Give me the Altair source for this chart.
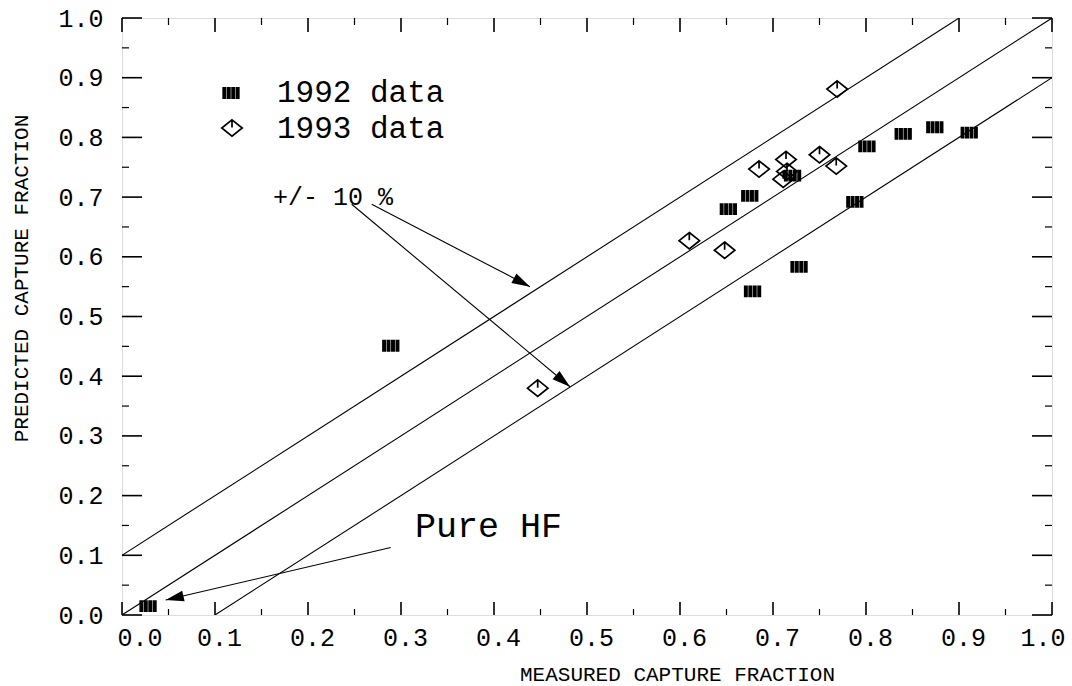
import math
import altair as alt
import pandas as pd

# ---------------- data ----------------
x1992 = [0.028, 0.289, 0.652, 0.675, 0.678, 0.721, 0.728, 0.788, 0.801, 0.840, 0.874, 0.911]
y1992 = [0.015, 0.451, 0.680, 0.702, 0.542, 0.736, 0.583, 0.692, 0.785, 0.806, 0.817, 0.808]

x1993 = [0.447, 0.610, 0.648, 0.685, 0.711, 0.715, 0.714, 0.750, 0.768, 0.769]
y1993 = [0.380, 0.627, 0.611, 0.747, 0.730, 0.743, 0.763, 0.771, 0.752, 0.881]

band_offsets = [0.1, 0.0, -0.1]          # y = x + offset  (perfect fit and +/- 10 %)
major_ticks = [0.0, 0.1, 0.2, 0.3, 0.4, 0.5, 0.6, 0.7, 0.8, 0.9, 1.0]
minor_ticks = [0.05, 0.15, 0.25, 0.35, 0.45, 0.55, 0.65, 0.75, 0.85, 0.95]
legend_labels = ["1992 data", "1993 data"]

arrow_x = [0.2685, 0.247, 0.289]
arrow_y = [0.688, 0.688, 0.113]
arrow_x2 = [0.4387, 0.4817, 0.047]
arrow_y2 = [0.550, 0.3824, 0.025]

note_texts = ["+/- 10 %", "Pure HF"]
note_x = [0.1624, 0.315]
note_y = [0.6868, 0.1312]

x_title = "MEASURED CAPTURE FRACTION"
y_title = "PREDICTED CAPTURE FRACTION"

# ---------------- layout ----------------
W, H = 930, 597
FONT = "Liberation Mono"

_bw, _gap = 0.455, 0.06
SQUARE = " ".join(
    f"M{-1 + i * (_bw + _gap):.3f},-0.68 H{-1 + i * (_bw + _gap) + _bw:.3f} V0.68 H{-1 + i * (_bw + _gap):.3f} Z"
    for i in range(4)
)
DIAMOND = "M0,-0.8 L1,0 L0,0.8 L-1,0 Z M0,-0.8 L0,-0.05"
ARROWHEAD = "M0,0 L0.6,2 L-0.6,2 Z"

xscale = alt.Scale(domain=[0, 1], nice=False, zero=False)
yscale = alt.Scale(domain=[0, 1], nice=False, zero=False)

xaxis = alt.Axis(
    values=major_ticks, format=".1f", ticks=False, tickSize=0, domain=False, grid=False,
    labelFont=FONT, labelFontSize=25, labelColor="black", labelPadding=10,
    labelFlush=True, labelFlushOffset=9, labelOffset=4, labelOverlap=False,
    title=x_title, titleFont=FONT, titleFontSize=21, titleFontWeight="normal", titleColor="black",
    titleBaseline="alphabetic", titleAlign="center", titleX=555, titleY=65,
)
yaxis = alt.Axis(
    values=major_ticks, format=".1f", ticks=False, tickSize=0, domain=False, grid=False,
    labelFont=FONT, labelFontSize=25, labelColor="black", labelPadding=19,
    labelFlush=False, labelOverlap=False,
    title=y_title, titleFont=FONT, titleFontSize=21, titleFontWeight="normal", titleColor="black",
    titleBaseline="alphabetic", titleAlign="center", titleAngle=-90, titleX=-95, titleY=260,
)


def X(field):
    return alt.X(field, type="quantitative", scale=xscale, axis=xaxis)


def Y(field):
    return alt.Y(field, type="quantitative", scale=yscale, axis=yaxis)


# tables
d92 = pd.DataFrame({"x": x1992, "y": y1992})
d93 = pd.DataFrame({"x": x1993, "y": y1993})

band_rows = []
for k, off in enumerate(band_offsets):
    x0, x1 = max(0.0, -off), min(1.0, 1.0 - off)
    band_rows.append({"band": k, "x": x0, "y": x0 + off})
    band_rows.append({"band": k, "x": x1, "y": x1 + off})
bands = pd.DataFrame(band_rows)

angles = []
for xa, ya, xb, yb in zip(arrow_x, arrow_y, arrow_x2, arrow_y2):
    dx = (xb - xa) * W
    dy = -(yb - ya) * H
    angles.append(math.degrees(math.atan2(dx, -dy)) % 360)
arrows = pd.DataFrame({"x": arrow_x, "y": arrow_y, "x2": arrow_x2, "y2": arrow_y2, "ang": angles})

majors = pd.DataFrame({"v": major_ticks})
minors = pd.DataFrame({"v": minor_ticks})

# layers
band_layer = alt.Chart(bands).mark_line(color="black", strokeWidth=1.1, clip=True).encode(
    x=X("x"), y=Y("y"), detail="band:N"
)

p92 = alt.Chart(d92).mark_point(
    shape=SQUARE, filled=True, fill="black", strokeWidth=0, size=300, opacity=1
).encode(x=X("x"), y=Y("y"))

p93 = alt.Chart(d93).mark_point(
    shape=DIAMOND, filled=False, stroke="black", strokeWidth=1.7, size=420, opacity=1
).encode(x=X("x"), y=Y("y"))

arrow_lines = alt.Chart(arrows).mark_rule(color="black", strokeWidth=1.1).encode(
    x=X("x"), y=Y("y"), x2="x2", y2="y2"
)
arrow_heads = alt.Chart(arrows).mark_point(
    shape=ARROWHEAD, filled=True, fill="black", strokeWidth=0, size=330, opacity=1
).encode(x=X("x2"), y=Y("y2"), angle=alt.Angle("ang:Q", scale=None))


def tick_layer(df, which, length, width):
    base = alt.Chart(df).mark_rule(color="black", strokeWidth=width)
    if which == "bottom":
        return base.encode(x=X("v"), y=alt.value(H), y2=alt.value(H - length))
    if which == "top":
        return base.encode(x=X("v"), y=alt.value(0), y2=alt.value(length))
    if which == "left":
        return base.encode(y=Y("v"), x=alt.value(0), x2=alt.value(length))
    return base.encode(y=Y("v"), x=alt.value(W), x2=alt.value(W - length))


ticks = [
    tick_layer(majors, "bottom", 13, 1.6), tick_layer(minors, "bottom", 6, 1.2),
    tick_layer(majors, "top", 14, 1.6), tick_layer(minors, "top", 7, 1.2),
    tick_layer(majors, "left", 20, 1.6), tick_layer(minors, "left", 7, 1.2),
    tick_layer(majors, "right", 20, 1.6), tick_layer(minors, "right", 7, 1.2),
]

# notes
note_layers = []
for txt, nx, ny, fs in zip(note_texts, note_x, note_y, [25, 35]):
    note_layers.append(
        alt.Chart(pd.DataFrame({"t": [txt], "x": [nx], "y": [ny]})).mark_text(
            align="left", baseline="alphabetic", font=FONT, fontSize=fs, color="black"
        ).encode(x=X("x"), y=Y("y"), text="t:N")
    )

# legend (drawn inside the plot area like the original)
leg92 = alt.Chart(pd.DataFrame({"t": [legend_labels[0]]}))
leg93 = alt.Chart(pd.DataFrame({"t": [legend_labels[1]]}))
LEG_FS = 31
legend_layers = [
    leg92.mark_point(shape=SQUARE, filled=True, fill="black", strokeWidth=0, size=300, opacity=1).encode(
        x=alt.value(109), y=alt.value(75)),
    leg93.mark_point(shape=DIAMOND, filled=False, stroke="black", strokeWidth=1.7, size=420, opacity=1).encode(
        x=alt.value(110), y=alt.value(110)),
    leg92.mark_text(align="left", baseline="alphabetic", font=FONT, fontSize=LEG_FS, color="black").encode(
        x=alt.value(155), y=alt.value(84), text="t:N"),
    leg93.mark_text(align="left", baseline="alphabetic", font=FONT, fontSize=LEG_FS, color="black").encode(
        x=alt.value(155), y=alt.value(120), text="t:N"),
]

chart = alt.layer(
    band_layer, *ticks, arrow_lines, arrow_heads, p92, p93, *note_layers, *legend_layers
).properties(
    width=W, height=H,
    padding={"left": 122, "top": 18, "right": 20, "bottom": 71},
    autosize=alt.AutoSizeParams(type="none"),
).configure_view(stroke="black", strokeWidth=1.6).configure(background="white")

chart.save("out.html", embed_options={"renderer": "svg", "actions": False})
